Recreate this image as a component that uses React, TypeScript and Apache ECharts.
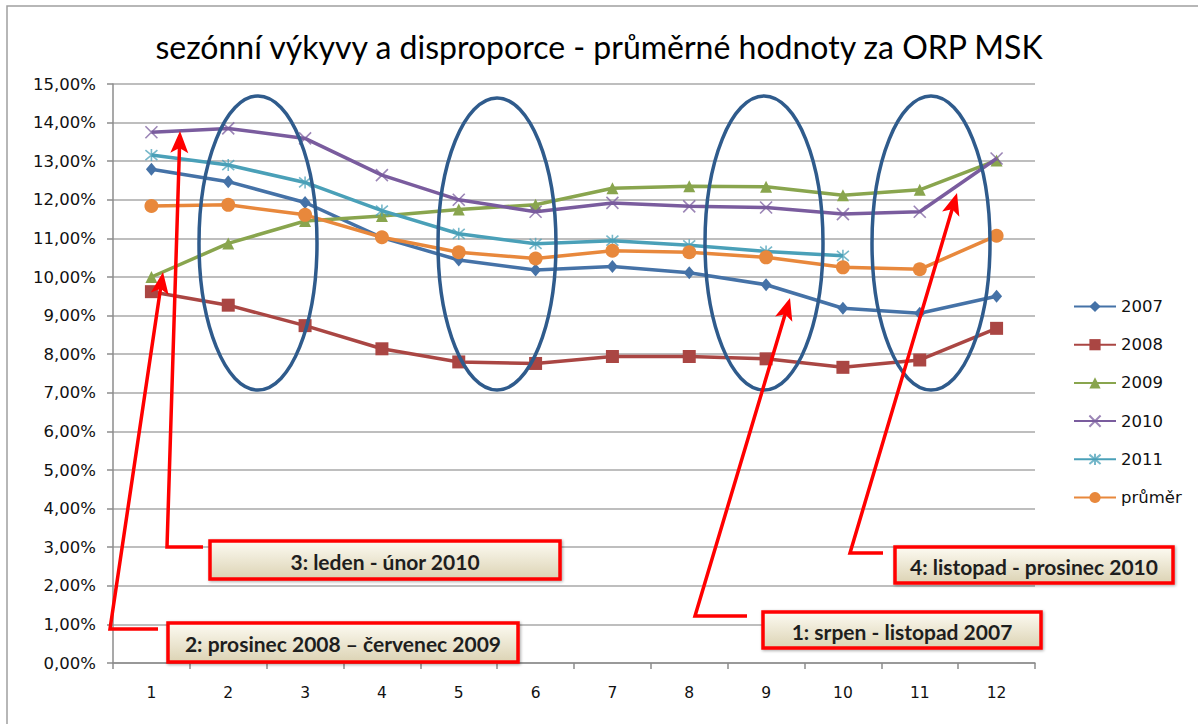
import React, { useEffect, useRef } from "react";
import * as echarts from "echarts";

const months = ["1", "2", "3", "4", "5", "6", "7", "8", "9", "10", "11", "12"];
const s2007 = [12.79, 12.47, 11.93, 11.02, 10.44, 10.18, 10.27, 10.11, 9.8, 9.19, 9.06, 9.5];
const s2008 = [9.62, 9.27, 8.74, 8.14, 7.8, 7.76, 7.94, 7.94, 7.88, 7.66, 7.85, 8.67];
const s2009 = [10.0, 10.87, 11.45, 11.58, 11.75, 11.87, 12.3, 12.35, 12.34, 12.12, 12.26, 13.02];
const s2010 = [13.75, 13.85, 13.59, 12.64, 12.0, 11.69, 11.92, 11.83, 11.8, 11.63, 11.69, 13.07];
const s2011 = [13.16, 12.9, 12.45, 11.72, 11.12, 10.86, 10.94, 10.82, 10.66, 10.55, null, null];
const sAvg = [11.84, 11.87, 11.61, 11.03, 10.64, 10.48, 10.68, 10.64, 10.51, 10.25, 10.2, 11.07];

const seriesNames = ["2007", "2008", "2009", "2010", "2011", "průměr"];
const yTicks = { min: 0, max: 15, step: 1 };
const title = "sezónní výkyvy a disproporce - průměrné hodnoty za ORP MSK";
const callouts = [
  "3: leden - únor 2010",
  "2: prosinec 2008 – červenec 2009",
  "4: listopad - prosinec 2010",
  "1: srpen - listopad 2007",
];

const X_PATH = "path://M0,0L10,10M10,0L0,10";
const STAR_PATH = "path://M0,0L10,10M10,0L0,10M5,-1L5,11";

function arrow(pts: number[][], color: string) {
  const n = pts.length;
  const tip = pts[n - 1];
  const prev = pts[n - 2];
  let dx = tip[0] - prev[0];
  let dy = tip[1] - prev[1];
  const len = Math.sqrt(dx * dx + dy * dy);
  dx /= len;
  dy /= len;
  const L = 22;
  const W = 9;
  const bx = tip[0] - dx * L;
  const by = tip[1] - dy * L;
  const px = -dy;
  const py = dx;
  const linePts = pts.slice(0, n - 1).concat([[bx + dx * 6, by + dy * 6]]);
  return [
    {
      type: "polyline",
      shape: { points: linePts },
      style: { stroke: color, lineWidth: 3.5, fill: null, lineJoin: "miter" },
      z: 100,
    },
    {
      type: "polygon",
      shape: {
        points: [
          tip,
          [bx + px * W, by + py * W],
          [bx + dx * 5, by + dy * 5],
          [bx - px * W, by - py * W],
        ],
      },
      style: { fill: color },
      z: 100,
    },
  ];
}

function box(x: number, y: number, w: number, h: number, text: string) {
  return {
    type: "group",
    z: 90,
    children: [
      {
        type: "rect",
        shape: { x, y, width: w, height: h },
        style: {
          fill: new echarts.graphic.LinearGradient(0, 0, 0, 1, [
            { offset: 0, color: "#FDFBF2" },
            { offset: 1, color: "#DCD3B4" },
          ]),
          stroke: "#FF0000",
          lineWidth: 3.5,
          shadowBlur: 3,
          shadowColor: "rgba(0,0,0,0.35)",
          shadowOffsetX: 1,
          shadowOffsetY: 1,
        },
        z: 90,
      },
      {
        type: "text",
        x: x + w / 2,
        y: y + h / 2 + 1,
        style: {
          text,
          fill: "#1E1E1E",
          font: "bold 21px Lato",
          align: "center",
          verticalAlign: "middle",
        },
        z: 91,
      },
    ],
  };
}

function ell(cx: number, cy: number, rx: number, ry: number) {
  return {
    type: "ellipse",
    shape: { cx, cy, rx, ry },
    style: { stroke: "#2F5B8C", lineWidth: 3.5, fill: null },
    z: 80,
  };
}

export default function App() {
  const ref = useRef<HTMLDivElement>(null);
  useEffect(() => {
    if (!ref.current) return;
    const chart = echarts.init(ref.current, null, { renderer: "svg" });
    const colors = ["#4572A7", "#AA4643", "#89A54E", "#7A5C9E", "#4AA0B8", "#E8883C"];
    const datas = [s2007, s2008, s2009, s2010, s2011, sAvg];
    const symbols = ["diamond", "rect", "triangle", X_PATH, STAR_PATH, "circle"];
    const sizes = [[11, 13], 13, 12, 12, 12, 14];
    const series = datas.map((d, i) => ({
      name: seriesNames[i],
      type: "line",
      data: d,
      symbol: symbols[i],
      symbolSize: sizes[i],
      showAllSymbol: true,
      lineStyle: { width: 3.5, color: colors[i] },
      itemStyle:
        i === 3 || i === 4
          ? { color: colors[i], borderColor: colors[i], borderWidth: 1.6, opacity: 0.75 }
          : { color: colors[i] },
      emphasis: { disabled: true },
      z: 10 + i,
    }));

    const graphic: any[] = [
      {
        type: "rect",
        shape: { x: 7, y: 6, width: 1200, height: 730 },
        style: { stroke: "#A0A0A0", lineWidth: 1.5, fill: null },
        z: 1,
      },
      ell(258, 243, 59, 147),
      ell(497, 244, 59, 146),
      ell(764, 243, 59, 147),
      ell(931, 243, 59, 147),
      ...arrow([[203, 547], [167, 547], [180, 131]], "#FF0000"),
      ...arrow([[158, 629], [110, 629], [163, 272]], "#FF0000"),
      ...arrow([[747, 616], [695, 616], [790, 298]], "#FF0000"),
      ...arrow([[883, 553], [850, 553], [957, 193]], "#FF0000"),
      box(210, 541, 350, 38, callouts[0]),
      box(168, 623, 350, 39, callouts[1]),
      box(895, 547, 278, 36, callouts[2]),
      box(763, 612, 278, 36, callouts[3]),
    ];

    chart.setOption({
      animation: false,
      backgroundColor: "#FFFFFF",
      title: {
        text: title,
        left: "center",
        top: 25,
        textStyle: { fontFamily: "Lato", fontSize: 32, fontWeight: "normal", color: "#000000" },
      },
      legend: {
        orient: "vertical",
        left: 1068,
        top: 293,
        itemWidth: 42,
        itemHeight: 14,
        itemGap: 21.2,
        data: seriesNames,
        textStyle: { fontFamily: "DejaVu Sans", fontSize: 16.5, color: "#111111" },
      },
      grid: { left: 113, right: 163, top: 84, bottom: 61, containLabel: false },
      xAxis: {
        type: "category",
        data: months,
        boundaryGap: true,
        axisLine: { lineStyle: { color: "#8C8C8C", width: 1.5 } },
        axisTick: { show: true, length: 6, lineStyle: { color: "#8C8C8C", width: 1.5 } },
        axisLabel: { margin: 22, fontFamily: "DejaVu Sans", fontSize: 15.5, color: "#111111" },
      },
      yAxis: {
        type: "value",
        min: yTicks.min,
        max: yTicks.max,
        interval: yTicks.step,
        axisLine: { show: true, lineStyle: { color: "#8C8C8C", width: 1.5 } },
        axisTick: { show: true, length: 6, lineStyle: { color: "#8C8C8C", width: 1.5 } },
        splitLine: { lineStyle: { color: "#A8A8A8", width: 1.5 } },
        axisLabel: {
          margin: 17,
          fontFamily: "DejaVu Sans",
          fontSize: 16.5,
          color: "#111111",
          formatter: (v: number) => v.toFixed(2).replace(".", ",") + "%",
        },
      },
      series,
      graphic,
    });
    return () => chart.dispose();
  }, []);
  return (
    <div
      ref={ref}
      style={{ position: "fixed", left: 0, top: 0, width: 1198, height: 724, background: "#fff" }}
    />
  );
}
